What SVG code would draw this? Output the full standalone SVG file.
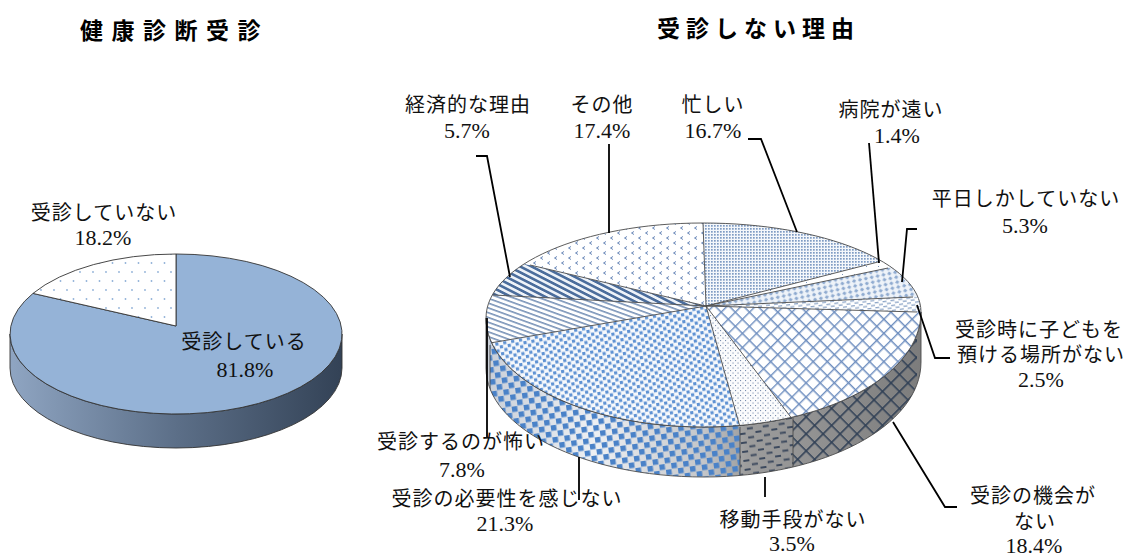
<svg xmlns="http://www.w3.org/2000/svg" width="1134" height="559" viewBox="0 0 1134 559">
<style>
.title{font-family:"Noto Sans CJK JP","Noto Sans",sans-serif;font-weight:bold;font-size:23px;fill:#000}
.lbl{font-family:"Liberation Serif","Noto Sans CJK JP",serif;font-size:20px;fill:#111;text-anchor:middle;letter-spacing:1px}
.num{font-family:"Liberation Serif","Noto Sans CJK JP",serif;font-size:22px;fill:#111;text-anchor:middle}
.edge{fill:none;stroke:#4a4a4a;stroke-width:0.9}
.lead{fill:none;stroke:#000;stroke-width:1.8}
</style>
<defs>
<linearGradient id="g1" gradientUnits="userSpaceOnUse" x1="10" y1="0" x2="342" y2="0">
<stop offset="0" stop-color="#8fa5c2"/><stop offset="0.5" stop-color="#5c6f88"/><stop offset="1" stop-color="#334256"/>
</linearGradient>
<linearGradient id="g2" gradientUnits="userSpaceOnUse" x1="486" y1="0" x2="921" y2="0">
<stop offset="0" stop-color="#c9cfd8"/><stop offset="0.25" stop-color="#eef0f3"/><stop offset="0.5" stop-color="#c4c6c9"/><stop offset="0.6" stop-color="#9c9c9c"/><stop offset="0.75" stop-color="#929292"/><stop offset="1" stop-color="#7c7c7c"/>
</linearGradient>
<pattern id="pDots1" patternUnits="userSpaceOnUse" width="13" height="18">
<rect width="13" height="18" fill="#fff"/><circle cx="2" cy="2" r="0.9" fill="#8fb0d8"/><circle cx="8.5" cy="11" r="0.9" fill="#8fb0d8"/>
</pattern>
<pattern id="pBusy" patternUnits="userSpaceOnUse" width="3" height="3">
<rect width="3" height="3" fill="#f4f7fb"/><rect width="1.7" height="1.7" fill="#7f9cc4"/>
</pattern>
<pattern id="pFar" patternUnits="userSpaceOnUse" width="12" height="8">
<rect width="12" height="8" fill="#fff"/><rect x="2" y="2" width="1" height="1" fill="#7a95bb"/>
</pattern>
<pattern id="pWeek" patternUnits="userSpaceOnUse" width="6" height="5" patternTransform="rotate(-12)">
<rect width="6" height="5" fill="#eef3f9"/><polygon points="3,0.5 5.2,2.5 3,4.5 0.8,2.5" fill="#8eaad0"/>
</pattern>
<pattern id="pChild" patternUnits="userSpaceOnUse" width="8" height="5" patternTransform="rotate(-8)">
<rect width="8" height="5" fill="#fff"/><rect x="0" y="1" width="4" height="1.3" fill="#8aa3c6"/><rect x="4" y="3.5" width="4" height="1.3" fill="#8aa3c6"/>
</pattern>
<pattern id="pChance" patternUnits="userSpaceOnUse" width="10" height="10" patternTransform="rotate(45)">
<rect width="10" height="10" fill="#fff"/><path d="M0,0.7H10M0.7,0V10" stroke="#6f8fc0" stroke-width="1.4"/>
</pattern>
<pattern id="pMove" patternUnits="userSpaceOnUse" width="5" height="5">
<rect width="5" height="5" fill="#fafbfc"/><rect x="0" y="0" width="1.1" height="1.1" fill="#7b8fae"/><rect x="2.5" y="2.5" width="1.1" height="1.1" fill="#7b8fae"/>
</pattern>
<pattern id="pNeed" patternUnits="userSpaceOnUse" width="8" height="7" patternTransform="rotate(-10)">
<rect width="8" height="7" fill="#f7f9fc"/><rect x="0" y="0" width="3.2" height="3.2" fill="#5f92d3"/><rect x="4" y="3.5" width="3.2" height="3.2" fill="#5f92d3"/>
</pattern>
<pattern id="pFear" patternUnits="userSpaceOnUse" width="6" height="4.5" patternTransform="rotate(20)">
<rect width="6" height="4.5" fill="#fff"/><rect y="0" width="6" height="1.6" fill="#7a94b8"/>
</pattern>
<pattern id="pEcon" patternUnits="userSpaceOnUse" width="6" height="5.2" patternTransform="rotate(27)">
<rect width="6" height="5.2" fill="#eef3f9"/><rect y="0" width="6" height="2.6" fill="#4b6d9c"/>
</pattern>
<pattern id="pOther" patternUnits="userSpaceOnUse" width="14" height="10">
<rect width="14" height="10" fill="#fff"/><path d="M4,1.5L1.5,3L4,4.5M11,6.5L8.5,8L11,9.5" fill="none" stroke="#6a88b8" stroke-width="1"/>
</pattern>
<pattern id="sNeed" patternUnits="userSpaceOnUse" width="12" height="12" patternTransform="rotate(-8)">
<rect x="0" y="0" width="5.5" height="5.5" fill="#4a82c8"/><rect x="6" y="6" width="5.5" height="5.5" fill="#4a82c8"/>
</pattern>
<pattern id="sMove" patternUnits="userSpaceOnUse" width="16" height="9" patternTransform="rotate(-8)">
<rect x="0" y="1" width="6" height="2" fill="#3d4a5e"/><rect x="8" y="5.5" width="6" height="2" fill="#3d4a5e"/>
</pattern>
<pattern id="sChance" patternUnits="userSpaceOnUse" width="12" height="12" patternTransform="rotate(45)">
<path d="M0,0.8H12M0.8,0V12" stroke="#2f3f55" stroke-width="1.6"/>
</pattern>
<clipPath id="top2"><path d="M703,223 C823,223 921,263 921,312 C921,376 824,427 704,427 C584,427 486,378 486,318 C486,265 583,223 703,223 Z"/></clipPath>
<clipPath id="side2"><path d="M486,318 C486,378 584,427 704,427 C824,427 921,376 921,312 L921,362 C921,426 824,477 704,477 C584,477 486,428 486,368 Z"/></clipPath>
</defs>
<rect width="1134" height="559" fill="#fff"/>

<g id="titles">
<text class="title" x="80" y="39" style="letter-spacing:8.5px">健康診断受診</text>
<text class="title" x="657" y="37" style="letter-spacing:6px">受診しない理由</text>
</g>

<g id="pie1">
<path d="M10,334 A166,80 0 0,0 342,334 L342,368 A166,80 0 0,1 10,368 Z" fill="url(#g1)" stroke="#333" stroke-width="0.9"/>
<path id="slice-yes" d="M176,326 L33,293.4 A166,80 0 1,0 176,254 Z" fill="#95b3d7" stroke="#333" stroke-width="0.9"/>
<path id="slice-no" d="M176,326 L176,254 A166,80 0 0,0 33,293.4 Z" fill="url(#pDots1)" stroke="#333" stroke-width="0.9"/>
</g>

<g id="pie2-side">
<g clip-path="url(#side2)">
<rect x="480" y="300" width="450" height="190" fill="url(#g2)"/>
<rect x="490" y="300" width="250" height="190" fill="url(#sNeed)"/>
<rect x="740" y="300" width="53" height="190" fill="url(#sMove)"/>
<rect x="793" y="300" width="124" height="190" fill="url(#sChance)"/>
<path d="M740,427V477M793,418V468M490,345V395" class="edge"/>
</g>
<path d="M486,318 C486,378 584,427 704,427 C824,427 921,376 921,312 L921,362 C921,426 824,477 704,477 C584,477 486,428 486,368 Z" class="edge"/>
</g>

<g id="pie2-top">
<g clip-path="url(#top2)">
<polygon id="s-busy" points="706,306 694,-26 1394,130" fill="url(#pBusy)"/>
<polygon id="s-far" points="706,306 1394,130 1434,154" fill="url(#pFar)"/>
<polygon id="s-week" points="706,306 1434,154 1534,270" fill="url(#pWeek)"/>
<polygon id="s-child" points="706,306 1534,270 1550,330" fill="url(#pChild)"/>
<polygon id="s-chance" points="706,306 1550,330 1054,762" fill="url(#pChance)"/>
<polygon id="s-move" points="706,306 1054,762 842,790" fill="url(#pMove)"/>
<polygon id="s-need" points="706,306 842,790 -158,454" fill="url(#pNeed)"/>
<polygon id="s-fear" points="706,306 -158,454 -146,262" fill="url(#pFear)"/>
<polygon id="s-econ" points="706,306 -146,262 2,142" fill="url(#pEcon)"/>
<polygon id="s-other" points="706,306 2,142 694,-26" fill="url(#pOther)"/>
<path class="edge" d="M706,306L703,223M706,306L878,262M706,306L888,268M706,306L913,297M706,306L917,312M706,306L793,420M706,306L740,427M706,306L490,343M706,306L493,295M706,306L530,265"/>
</g>
<path class="edge" d="M703,223 C823,223 921,263 921,312 C921,376 824,427 704,427 C584,427 486,378 486,318 C486,265 583,223 703,223 Z"/>
</g>

<g id="connectors">
<path class="lead" d="M476,156H487L510,277"/>
<path class="lead" d="M609,144V233"/>
<path class="lead" d="M748,139H761L797,232"/>
<path class="lead" d="M869,143L879,263"/>
<path class="lead" d="M917,229H907L902,282"/>
<path class="lead" d="M917,305L935,358H950"/>
<path class="lead" d="M893,422L945,507H957"/>
<path class="lead" d="M765,477V497"/>
<path class="lead" d="M579,457V500"/>
<path class="lead" d="M487,318V437"/>
</g>

<g id="labels1">
<text class="lbl" x="104" y="220">受診していない</text>
<text class="num" x="103" y="245">18.2%</text>
<text class="lbl" x="244" y="349">受診している</text>
<text class="num" x="245" y="377">81.8%</text>
</g>

<g id="labels2">
<text class="lbl" x="468" y="112">経済的な理由</text>
<text class="num" x="467" y="138">5.7%</text>
<text class="lbl" x="602" y="112">その他</text>
<text class="num" x="602" y="138">17.4%</text>
<text class="lbl" x="713" y="112">忙しい</text>
<text class="num" x="713" y="138">16.7%</text>
<text class="lbl" x="891" y="117">病院が遠い</text>
<text class="num" x="897" y="143">1.4%</text>
<text class="lbl" x="1026" y="206">平日しかしていない</text>
<text class="num" x="1025" y="233">5.3%</text>
<text class="lbl" x="1039" y="337">受診時に子どもを</text>
<text class="lbl" x="1041" y="362">預ける場所がない</text>
<text class="num" x="1041" y="387">2.5%</text>
<text class="lbl" x="1033" y="503">受診の機会が</text>
<text class="lbl" x="1035" y="529">ない</text>
<text class="num" x="1034" y="553">18.4%</text>
<text class="lbl" x="793" y="527">移動手段がない</text>
<text class="num" x="792" y="551">3.5%</text>
<text class="lbl" x="461" y="449">受診するのが怖い</text>
<text class="num" x="462" y="477">7.8%</text>
<text class="lbl" x="507" y="506">受診の必要性を感じない</text>
<text class="num" x="505" y="531">21.3%</text>
</g>
</svg>
